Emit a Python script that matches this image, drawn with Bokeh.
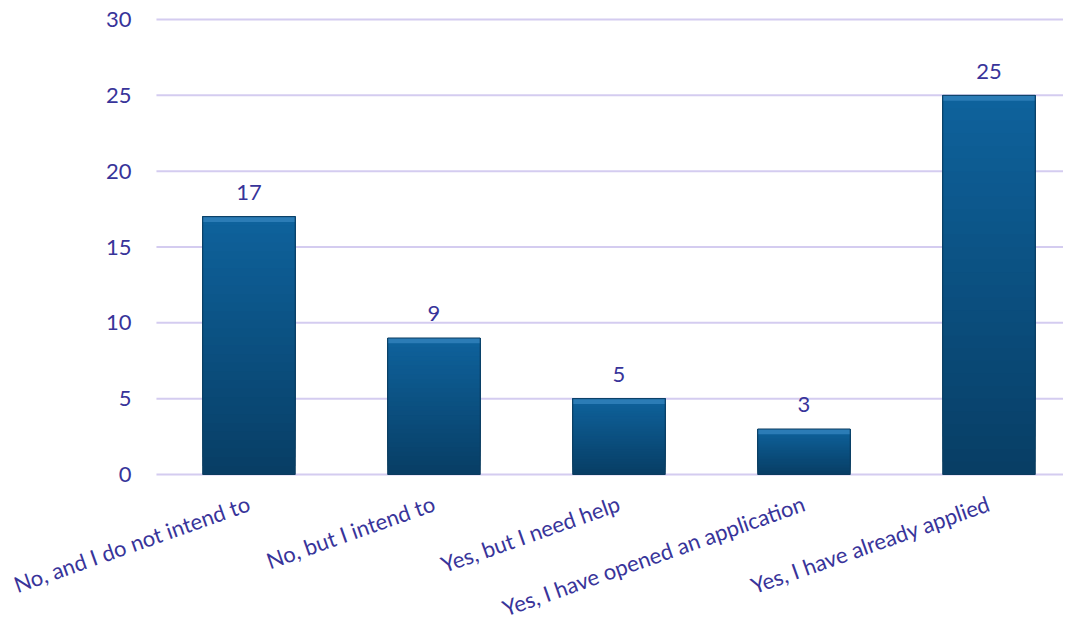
from bokeh.plotting import figure
from bokeh.models import Range1d, ColumnDataSource
from bokeh.embed import file_html
from bokeh.resources import INLINE
from bokeh.core.properties import value

categories = ["No, and I do not intend to", "No, but I intend to", "Yes, but I need help",
              "Yes, I have opened an application", "Yes, I have already applied"]
counts = [17, 9, 5, 3, 25]
y_ticks = [0, 5, 10, 15, 20, 25, 30]

TEXT = "#38349a"
FONT = "Lato"

# frame spans the whole page; axis labels are drawn in data space outside the plotting area
p = figure(width=1071, height=623, output_backend="svg", toolbar_location=None,
           x_range=Range1d(-1.343, 4.446), y_range=Range1d(-9.824, 31.253),
           min_border_left=0, min_border_right=0, min_border_top=0, min_border_bottom=0)
p.outline_line_color = None
p.background_fill_color = "white"
p.xaxis.visible = False
p.yaxis.visible = False
p.xgrid.grid_line_color = None
p.ygrid.grid_line_color = None

X0, X1 = -0.5, 4.4
# gridlines
p.segment(x0=[X0] * len(y_ticks), x1=[X1] * len(y_ticks), y0=y_ticks, y1=y_ticks,
          line_color="#d4ccf0", line_width=2)

xs = list(range(len(categories)))
n = 30
top_c = (0x0f, 0x63, 0x9d)
bot_c = (0x08, 0x3e, 0x65)
for k in range(n):
    f0 = k / n
    t = (k + 0.5) / n
    c = tuple(int(bot_c[i] + (top_c[i] - bot_c[i]) * t) for i in range(3))
    col = "#%02x%02x%02x" % c
    p.vbar(x=xs, bottom=[v * f0 for v in counts], top=counts, width=0.5,
           fill_color=col, line_color=None)
# bevel strip at top
p.vbar(x=xs, bottom=[v - 0.35 for v in counts], top=counts, width=0.5,
       fill_color="#2b7cb6", line_color=None)
p.vbar(x=xs, bottom=[0] * len(counts), top=counts, width=0.5,
       fill_color=None, line_color="#0b3b5e", line_width=1)

# value labels
src = ColumnDataSource(dict(x=xs, y=[v + 1.1 for v in counts], t=[str(v) for v in counts]))
p.text(x="x", y="y", text="t", source=src, text_align="center", text_baseline="bottom",
       text_color=TEXT, text_font=value(FONT), text_font_size="22px")

# y tick labels
ysrc = ColumnDataSource(dict(x=[X0 - 0.135] * len(y_ticks), y=y_ticks, t=[str(v) for v in y_ticks]))
p.text(x="x", y="y", text="t", source=ysrc, text_align="right", text_baseline="middle",
       text_color=TEXT, text_font=value(FONT), text_font_size="22px")

# category labels
lab = ColumnDataSource(dict(x=[x - 0.025 for x in xs], y=[-1.0] * len(xs), t=categories))
p.text(x="x", y="y", text="t", source=lab, angle=0.34, text_align="right", text_baseline="top",
       text_color=TEXT, text_font=value(FONT), text_font_size="22px")

open("out.html", "w").write(file_html(p, INLINE))
